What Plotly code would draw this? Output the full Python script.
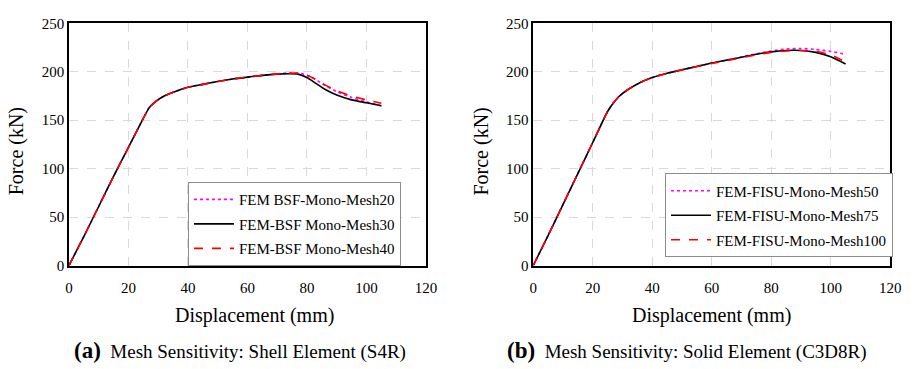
import plotly.graph_objects as go

# ---- data (a) Shell element S4R ----
disp_a = [0, 5, 10, 15, 20, 25, 27, 29, 32, 36, 40, 45, 50, 55, 60, 65, 70, 74, 77, 80, 83, 86, 90, 95, 100, 105]
mesh30_a = [0, 30, 61, 92, 122, 152, 163, 169, 175, 180, 184, 187, 190, 192.5, 194.5, 196.3, 197.6, 198, 197.6, 194, 188, 182, 176, 171, 168, 165]
mesh20_a = [0, 30, 61, 92, 122, 152, 163, 169, 175, 180, 184, 187, 190, 192.5, 194.5, 196.3, 197.8, 198.8, 198.8, 196.5, 192, 186, 179.5, 173.5, 169, 165]
mesh40_a = [0, 30, 61, 92, 122, 152, 163, 169, 175, 180, 184, 187, 190, 192.5, 194.5, 196.3, 197.8, 198.5, 198.5, 196.5, 192, 186.5, 180.5, 175, 171, 167.5]

# ---- data (b) Solid element C3D8R ----
disp_b = [0, 5, 10, 15, 20, 25, 27, 29, 32, 36, 40, 45, 50, 55, 60, 65, 70, 75, 80, 85, 90, 95, 100, 105]
mesh75_b = [0, 31, 63, 95, 127, 159, 168, 175, 182, 189, 194, 198.5, 202, 205.5, 209, 212, 215, 218, 220.5, 222, 222, 220, 215.5, 208]
mesh50_b = [0, 31, 63, 95, 127, 159, 168, 175, 182, 189, 194, 198.5, 202, 205.5, 209, 212, 215.3, 218.5, 221.5, 223.5, 224, 223, 221, 218]
mesh100_b = [0, 31, 63, 95, 127, 159, 168, 175, 182, 189, 194, 198.5, 202, 205.5, 208.5, 211.5, 214.5, 217.5, 220, 221.5, 222, 221, 217.5, 210]

names_a = ["FEM BSF-Mono-Mesh20", "FEM-BSF Mono-Mesh30", "FEM-BSF Mono-Mesh40"]
names_b = ["FEM-FISU-Mono-Mesh50", "FEM-FISU-Mono-Mesh75", "FEM-FISU-Mono-Mesh100"]
x_ticks = [0, 20, 40, 60, 80, 100, 120]
y_ticks = [0, 50, 100, 150, 200, 250]

FONT = "'Liberation Serif', 'Times New Roman', Times, serif"
W, H = 917, 369

def px(x):
    return x / W

def py(y):
    return (H - y) / H

styles = [
    dict(color="#FF00FF", dash="dot", width=1.6),
    dict(color="black", dash="solid", width=1.6),
    dict(color="#FF0000", dash="dash", width=1.6),
]

fig = go.Figure()

series_a = [mesh20_a, mesh30_a, mesh40_a]
series_b = [mesh50_b, mesh75_b, mesh100_b]

for i, (nm, ys) in enumerate(zip(names_a, series_a)):
    fig.add_trace(go.Scatter(x=disp_a, y=ys, mode="lines", name=nm, line=dict(styles[i], shape="spline", smoothing=0.6),
                             xaxis="x", yaxis="y", legend="legend", legendgroup="a%d" % i))
for i, (nm, ys) in enumerate(zip(names_b, series_b)):
    fig.add_trace(go.Scatter(x=disp_b, y=ys, mode="lines", name=nm, line=dict(styles[i], shape="spline", smoothing=0.6),
                             xaxis="x2", yaxis="y2", legend="legend2", legendgroup="b%d" % i))

axis_common = dict(
    showline=True, linecolor="black", linewidth=1.5, mirror=True,
    showgrid=True, gridcolor="#D9D9D9", griddash="dash", gridwidth=1,
    zeroline=False, ticks="", tickfont=dict(family=FONT, size=15, color="black"),
)
xaxis_extra = dict(ticklabelstandoff=8)

ydom = [py(269.3), py(16)]
fig.update_layout(
    width=W, height=H,
    margin=dict(l=0, r=0, t=0, b=0),
    paper_bgcolor="white", plot_bgcolor="white",
    font=dict(family=FONT, color="black"),
    xaxis=dict(axis_common, **xaxis_extra, domain=[px(66), px(429)], range=[0, 120], tickvals=x_ticks, anchor="y"),
    yaxis=dict(axis_common, domain=ydom, range=[0, 250], tickvals=y_ticks, anchor="x"),
    xaxis2=dict(axis_common, **xaxis_extra, domain=[px(538), px(901)], range=[0, 120], tickvals=x_ticks, anchor="y2"),
    yaxis2=dict(axis_common, domain=ydom, range=[0, 250], tickvals=y_ticks, anchor="x2"),
    legend=dict(x=px(187), y=py(182), xanchor="left", yanchor="top",
                bgcolor="white", bordercolor="#8C8C8C", borderwidth=1,
                font=dict(family=FONT, size=15, color="black"), tracegroupgap=2, itemwidth=40),
    legend2=dict(x=px(672), y=py(173), xanchor="left", yanchor="top",
                 bgcolor="white", bordercolor="#8C8C8C", borderwidth=1,
                 font=dict(family=FONT, size=15, color="black"), tracegroupgap=2, itemwidth=40),
    showlegend=True,
)

annots = [
    dict(text="Force (kN)", x=px(13), y=py(150), textangle=-90, font=dict(size=20)),
    dict(text="Force (kN)", x=px(485), y=py(150), textangle=-90, font=dict(size=20)),
    dict(text="Displacement (mm)", x=px(255), y=py(321), font=dict(size=20)),
    dict(text="Displacement (mm)", x=px(719), y=py(321), font=dict(size=20)),
    dict(text="<span style='font-size:23px'><b>(a)</b></span>  Mesh Sensitivity: Shell Element (S4R)", x=px(240), y=py(358), font=dict(size=19)),
    dict(text="<span style='font-size:23px'><b>(b)</b></span>  Mesh Sensitivity: Solid Element (C3D8R)", x=px(694), y=py(358), font=dict(size=19)),
]
for a in annots:
    a.update(xref="paper", yref="paper", showarrow=False, xanchor="center", yanchor="middle")
    a["font"] = dict(family=FONT, color="black", **a["font"])
    fig.add_annotation(**a)

fig.write_html("out.html")
